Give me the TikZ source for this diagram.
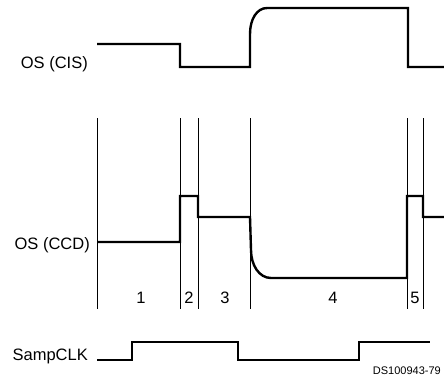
\documentclass[tikz,border=0pt]{standalone}
\usepackage{fontspec}
\setmainfont{Liberation Sans}
\begin{document}
\begin{tikzpicture}[x=1pt,y=-1pt]
      \tikzset{
        every node/.style={inner sep=0pt,font=\fontsize{16.5}{18}\selectfont},
        sig/.style={line width=2.4pt,line join=miter},
        tick/.style={line width=0.9pt}
      }
      \useasboundingbox (0,0) rectangle (444,381);

      % signal names
      \node[anchor=base east] (cis) at (88,68) {OS (CIS)};
      \node[anchor=base east] (ccd) at (90,249) {OS (CCD)};
      \node[anchor=base east] (clk) at (88,360) {SampCLK};

      % phase boundaries
      \foreach \x in {97,180,198,250,407,423}
        \draw[tick] (\x,118) -- (\x,309);

      % phase numbers
      \node[anchor=base] (p1) at (141,303) {1};
      \node[anchor=base] (p2) at (189,303) {2};
      \node[anchor=base] (p3) at (225,303) {3};
      \node[anchor=base] (p4) at (333,303) {4};
      \node[anchor=base] (p5) at (415,303) {5};

      % waveforms
      \draw[sig] (97,44) -- (180,44) -- (180,67) -- (250,67) -- (250,34)
            .. controls (250,19) and (257,8) .. (267,8)
            -- (408,8) -- (408,67) -- (444,67);
      \draw[sig] (97,242) -- (180,242) -- (180,196) -- (198,196) -- (198,217)
            -- (250,217) -- (251,250) .. controls (251,265) and (259,278) .. (271,278)
            -- (407,278) -- (407,196) -- (423,196) -- (423,217) -- (444,217);
      \draw[sig] (97,360) -- (132,360) -- (132,342) -- (238,342) -- (238,360)
            -- (359,360) -- (359,342) -- (430,342);

      \node[anchor=base east,font=\fontsize{11}{12}\selectfont] (ref) at (441,374) {DS100943-79};
\end{tikzpicture}
\end{document}
